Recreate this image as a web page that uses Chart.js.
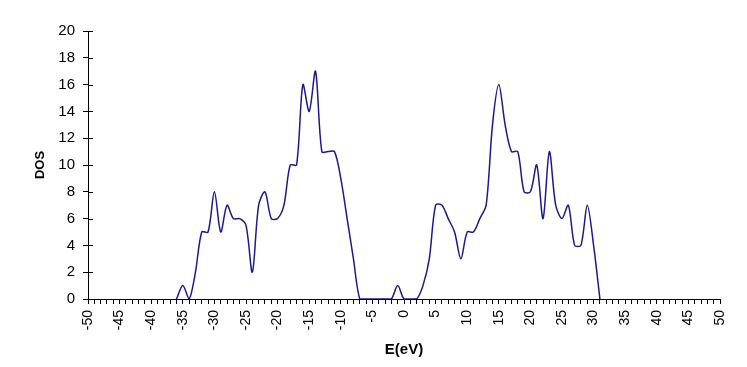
<!DOCTYPE html>
<html>
<head>
<meta charset="utf-8">
<script src="https://cdn.jsdelivr.net/npm/chart.js@4/dist/chart.umd.min.js"></script>
<style>
  html, body { margin: 0; padding: 0; background: #fff; }
  #wrap { width: 747px; height: 367px; }
</style>
</head>
<body>
<div id="wrap"><canvas id="stage"></canvas></div>
<script>
// エネルギー (eV) と DOS の値 - 図から読み取り
var E_VAL = [-36,-35,-34,-33,-32,-31,-30,-29,-28,-27,-26,-25,-24,-23,-22,-21,-20,-19,-18,-17,
  -16,-15,-14,-13,-12,-11,-10,-9,-8,-7,-6,-5,-4,-3,-2,-1,0,1,2,3,
  4,5,6,7,8,9,10,11,12,13,14,15,16,17,18,19,20,21,22,23,
  24,25,26,27,28,29,30,31];
var DOS_VAL = [0,1,0,2,5,5,8,5,7,6,6,5.5,2,7,8,6,6,7,10,10,
  16,14,17,11,11,11,9,6,3,0,0,0,0,0,0,1,0,0,0,1,
  3,7,7,6,5,3,5,5,6,7,13,16,13,11,11,8,8,10,6,11,
  7,6,7,4,4,7,4,0];
var X_MIN = -50, X_MAX = 50, X_STEP = 1, X_LABEL_EVERY = 5;
var Y_MIN = 0, Y_MAX = 20, Y_STEP = 2;
var X_TITLE = 'E(eV)';
var Y_TITLE = 'DOS';

var points = [];
for (let i = 0; i < E_VAL.length; i++){
  points.push({x: E_VAL[i], y: DOS_VAL[i]});
}

//y軸の目盛り線を内側にも描く
var innerTicks = {
  id: 'innerTicks',
  afterDraw(chart){
    const ctx = chart.ctx;
    const ys = chart.scales.y;
    const x0 = chart.chartArea.left;
    ctx.save();
    ctx.strokeStyle = '#000';
    ctx.lineWidth = 1;
    ys.ticks.forEach(t => {
      const py = Math.round(ys.getPixelForValue(t.value)) + 0.5;
      ctx.beginPath();
      ctx.moveTo(x0, py);
      ctx.lineTo(x0 + 5, py);
      ctx.stroke();
    });
    ctx.restore();
  }
};

var canvas = document.getElementById('stage');
var myChart = new Chart(canvas, {
  type: 'line',
  data: {
    datasets: [{
      data: points,
      borderColor: '#1a1a8c',
      borderWidth: 1.5,
      pointRadius: 0,
      tension: 0.3,
      fill: false
    }]
  },
  options: {
    responsive: true,
    maintainAspectRatio: false,
    animation: false,
    events: [],
    layout: { padding: { top: 31, right: 27, bottom: 0, left: 0 } },
    plugins: {
      legend: { display: false },
      tooltip: { enabled: false }
    },
    scales: {
      x: {
        type: 'linear',
        min: X_MIN,
        max: X_MAX,
        z: 1,//軸線を線グラフの上に
        afterFit(scale){ scale.height = 68; },
        border: { color: '#000', width: 1 },
        grid: { drawOnChartArea: false, color: '#000', tickLength: 5 },
        ticks: {
          stepSize: X_STEP,
          autoSkip: false,
          maxTicksLimit: 200,
          minRotation: 90,
          maxRotation: 90,
          padding: 6,
          color: '#000',
          font: { family: 'Arial, "Liberation Sans", sans-serif', size: 14 },
          callback: v => (v % X_LABEL_EVERY === 0 ? String(v) : '')
        },
        title: {
          display: true,
          text: X_TITLE,
          color: '#000',
          font: { family: 'Arial, "Liberation Sans", sans-serif', size: 15, weight: 'bold' },
          padding: { top: 0, bottom: 8 }
        }
      },
      y: {
        min: Y_MIN,
        max: Y_MAX,
        afterFit(scale){ scale.width = 88; },
        border: { color: '#000', width: 1 },
        grid: { drawOnChartArea: false, color: '#000', tickLength: 5 },
        ticks: {
          stepSize: Y_STEP,
          padding: 8,
          color: '#000',
          font: { family: 'Arial, "Liberation Sans", sans-serif', size: 15 }
        },
        title: {
          display: true,
          text: Y_TITLE,
          color: '#000',
          font: { family: 'Arial, "Liberation Sans", sans-serif', size: 13, weight: 'bold' },
          padding: { top: 33, bottom: 0 }
        }
      }
    }
  },
  plugins: [innerTicks]
});
</script>
</body>
</html>
